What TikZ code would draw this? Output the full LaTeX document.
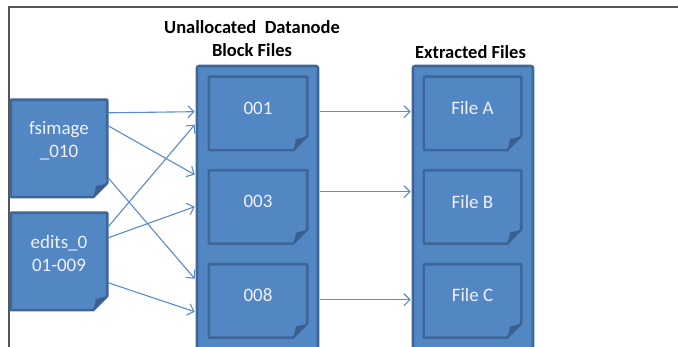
\documentclass[tikz,border=0pt]{standalone}
\usepackage{fontspec}
\setmainfont{Carlito}
\usetikzlibrary{calc,arrows.meta}
\definecolor{boxfill}{HTML}{5387C4}
\definecolor{boxline}{HTML}{3D6699}
\definecolor{flapfill}{HTML}{3A5F8F}
\definecolor{arrowblue}{HTML}{5B8CC8}
\definecolor{framegray}{HTML}{555555}
\newcommand{\foldsz}{14}
\newcommand{\docoutline}[1]{%
  \draw[docline] (#1.north west) -- (#1.north east) -- ($(#1.south east)+(0,-\foldsz)$) -- ($(#1.south east)+(-\foldsz,0)$) -- (#1.south west) -- cycle;
  \fill[flapfill] ($(#1.south east)+(0,-\foldsz)$) -- ($(#1.south east)+(-\foldsz,0)$) .. controls ($(#1.south east)+(-0.85*\foldsz,-0.5*\foldsz)$) .. ($(#1.south east)+(-0.8*\foldsz,-0.8*\foldsz)$) .. controls ($(#1.south east)+(-0.5*\foldsz,-0.85*\foldsz)$) .. cycle;
}
\tikzset{
  docbase/.style={rectangle, inner sep=0pt, draw=none, fill=none},
  docline/.style={draw=boxline, fill=boxfill, line width=2.6pt, line join=round},
  colbox/.style={rectangle, inner sep=0pt, draw=boxline, fill=boxfill, line width=2.6pt, rounded corners=2pt},
  doctext/.style={text=white!94!blue, font=\fontsize{19}{23}\selectfont, align=center, inner sep=0pt},
  heading/.style={text=black, font=\bfseries\fontsize{18.5}{23}\selectfont, align=center, inner sep=0pt},
  arr/.style={draw=arrowblue, line width=1.1pt, -{Straight Barb[length=6pt,width=12pt,line width=1.1pt]}},
  framestyle/.style={draw=framegray, line width=1.6pt},
}
\begin{document}
\begin{tikzpicture}[x=1pt,y=-1pt]
\useasboundingbox (0,0) rectangle (678,347);
\fill[white] (0,0) rectangle (678,347);
% frame
\coordinate (fr-tr) at (678,7);
\coordinate (fr-tl) at (9,7);
\coordinate (fr-bl) at (9,350);
\draw[framestyle] (fr-tr) -- (fr-tl) -- (fr-bl);
% headings
\node[heading] (h1) at (252,38.5) {Unallocated\ \ Datanode\\Block\ Files};
\node[heading] (h2) at (470.5,52) {Extracted Files};
% left documents
\node[docbase, minimum width=96pt, minimum height=97pt] (fs) at (59,148.5) {};
\docoutline{fs}
\node[doctext] (fs-t) at ($(fs.center)+(0,-8)$) {fsimage\\\_010};
\node[docbase, minimum width=96pt, minimum height=97pt] (ed) at (59,261.5) {};
\docoutline{ed}
\node[doctext] (ed-t) at ($(ed.center)+(0,-8.5)$) {edits\_0\\01-009};
% columns
\node[colbox, minimum width=121pt, minimum height=290pt] (col1) at (257.5,211) {};
\node[colbox, minimum width=120pt, minimum height=290pt] (col2) at (473,211) {};
% middle blocks
\node[docbase, minimum width=98pt, minimum height=73pt] (b1) at (258,113.5) {};
\docoutline{b1}
\node[doctext] (b1-t) at ($(b1.center)+(0,-5.5)$) {001};
\node[docbase, minimum width=98pt, minimum height=73pt] (b3) at (258,207) {};
\docoutline{b3}
\node[doctext] (b3-t) at ($(b3.center)+(0,-5.5)$) {003};
\node[docbase, minimum width=98pt, minimum height=73pt] (b8) at (258,301) {};
\docoutline{b8}
\node[doctext] (b8-t) at ($(b8.center)+(0,-6)$) {008};
% right files
\node[docbase, minimum width=97pt, minimum height=73pt] (fa) at (472.5,113.5) {};
\docoutline{fa}
\node[doctext] (fa-t) at ($(fa.center)+(0,-5.5)$) {File A};
\node[docbase, minimum width=97pt, minimum height=73pt] (fb) at (472.5,207) {};
\docoutline{fb}
\node[doctext] (fb-t) at ($(fb.center)+(0,-5.5)$) {File B};
\node[docbase, minimum width=97pt, minimum height=73pt] (fc) at (472.5,301) {};
\docoutline{fc}
\node[doctext] (fc-t) at ($(fc.center)+(0,-6)$) {File C};
% arrows left -> middle
\draw[arr] ($(fs.north east)+(1,13)$) -- ($(col1.north west)+(-1,47)$);
\draw[arr] ($(fs.north east)+(1,26)$) -- ($(col1.north west)+(-1,110)$);
\draw[arr] ($(fs.north east)+(1,78)$) -- ($(col1.north west)+(-1,214)$);
\draw[arr] ($(ed.north east)+(1,14)$) -- ($(col1.north west)+(-1,60)$);
\draw[arr] ($(ed.north east)+(1,25)$) -- ($(col1.north west)+(-1,142)$);
\draw[arr] ($(ed.north east)+(1,70)$) -- ($(col1.north west)+(-1,247)$);
% arrows middle -> right
\draw[arr] ($(col1.north east)+(1,47)$) -- ($(col2.north west)+(-1,47)$);
\draw[arr] ($(col1.north east)+(1,127)$) -- ($(col2.north west)+(-1,127)$);
\draw[arr] ($(col1.north east)+(1,235)$) -- ($(col2.north west)+(-1,235)$);
\end{tikzpicture}
\end{document}
